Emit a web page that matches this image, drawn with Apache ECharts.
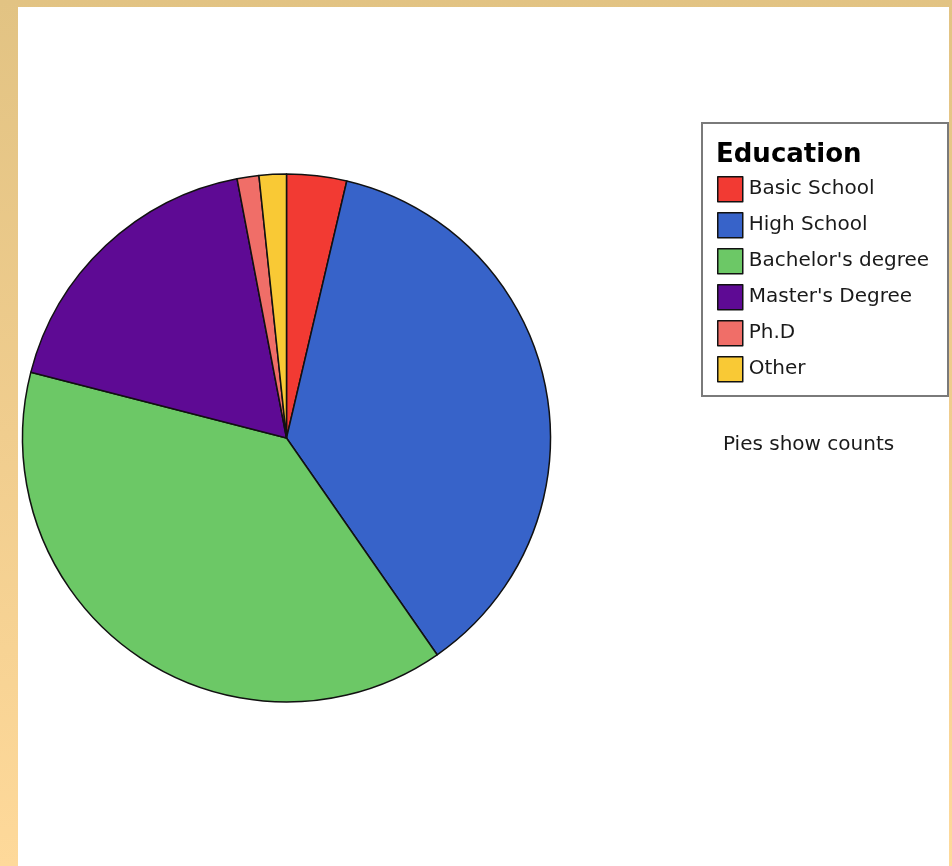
<!DOCTYPE html>
<html>
<head>
<meta charset="utf-8">
<script src="https://cdn.jsdelivr.net/npm/echarts@6/dist/echarts.min.js"></script>
<style>
  html, body { margin: 0; padding: 0; }
  body { width: 952px; height: 866px; background: linear-gradient(to bottom, #E2C383 0%, #F0CD8E 50%, #FED99A 100%); position: relative; overflow: hidden; }
  #paper { position: absolute; left: 18px; top: 7px; width: 931px; height: 859px; background: #fff; }
  #chart { position: absolute; left: 0; top: 0; width: 952px; height: 866px; }
</style>
</head>
<body>
<div id="paper"></div>
<div id="chart"></div>
<script>
const legendTitle = 'Education';
const categories = ['Basic School', 'High School', "Bachelor's degree", "Master's Degree", 'Ph.D', 'Other'];
const counts = [11, 110, 116, 54, 4, 5];
const colors = ['#F23A33', '#3763C9', '#6CC866', '#5E0A94', '#F06E68', '#F9C935'];
const footnote = 'Pies show counts';

const chart = echarts.init(document.getElementById('chart'), null, { renderer: 'canvas' });
chart.setOption({
  backgroundColor: 'transparent',
  animation: false,
  title: {
    text: legendTitle,
    left: 711,
    top: 137,
    textStyle: { fontFamily: 'DejaVu Sans', fontWeight: 'bold', fontSize: 26, color: '#000' }
  },
  legend: {
    orient: 'vertical',
    left: 712,
    top: 171,
    itemWidth: 25,
    itemHeight: 25,
    itemGap: 9.5,
    icon: 'rect',
    selectedMode: false,
    data: categories,
    itemStyle: { borderColor: '#111', borderWidth: 1.5 },
    textStyle: { fontFamily: 'DejaVu Sans', fontSize: 20, color: '#1a1a1a', lineHeight: 25, padding: [0, 0, 0, 1] }
  },
  graphic: [
    {
      type: 'rect',
      shape: { x: 702, y: 123, width: 246, height: 273 },
      style: { fill: 'none', stroke: '#7a7a7a', lineWidth: 2 },
      z: 0
    },
    {
      type: 'text',
      left: 723,
      top: 435,
      style: { text: footnote, fontFamily: 'DejaVu Sans', fontSize: 20, fill: '#1a1a1a' }
    }
  ],
  series: [{
    type: 'pie',
    center: [286.5, 438],
    radius: 264,
    startAngle: 90,
    clockwise: true,
    label: { show: false },
    labelLine: { show: false },
    emphasis: { disabled: true },
    itemStyle: { borderColor: '#111', borderWidth: 1.5 },
    data: categories.map((c, i) => ({ name: c, value: counts[i], itemStyle: { color: colors[i] } }))
  }]
});
</script>
</body>
</html>
